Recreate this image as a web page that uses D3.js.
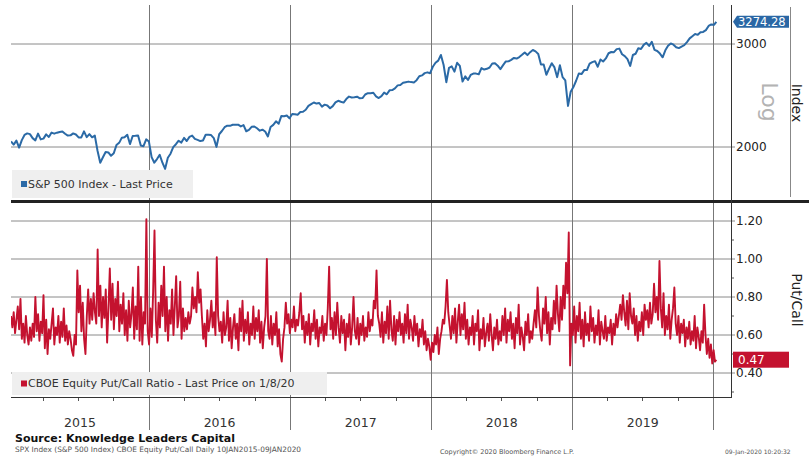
<!DOCTYPE html>
<html><head><meta charset="utf-8">
<script src="https://cdn.jsdelivr.net/npm/d3@7"></script>
<style>body{margin:0;background:#fff}svg{display:block}text{font-family:"DejaVu Sans",sans-serif}</style>
</head><body><svg id="c" width="809" height="459"></svg>
<script>
const startDate = "2015-01-09", endDate = "2020-01-09", axisEndDate = "2020-02-16";
const years = [2015, 2016, 2017, 2018, 2019];
const spxTicks = [2000, 3000];
const pcTicks = [0.4, 0.6, 0.8, 1.0, 1.2];
const pcMinorTicks = [0.3, 0.5, 0.7, 0.9, 1.1];
const spxLast = 3274.28, pcLast = 0.47;
const spxLabel = "S&P 500 Index - Last Price";
const pcLabel = "CBOE Equity Put/Call Ratio - Last Price on 1/8/20";
// S&P 500 weekly closes (Fridays), last point = 9 Jan 2020
const spxWeekly = [
2044,2019,2051,1995,2055,2097,2110,2104,2071,2053,2108,2061,2067,2102,2081,2117,2108,2116,2122,2126,2107,2092,2094,2110,2101,2077,2077,2127,2079,2104,2078,2092,1971,1880,1921,1961,1958,1932,1951,2015,2033,2075,2079,2099,2023,2089,2090,2092,2012,2006,2061,2044,
1922,1880,1907,1940,1880,1835,1917,1948,1999,2022,2050,2035,2073,2048,2081,2092,2065,2057,2047,2052,2099,2099,2096,2071,2001,2103,2130,2162,2175,2174,2183,2184,2184,2169,2180,2128,2139,2165,2168,2153,2133,2141,2126,2085,2164,2182,2213,2192,2260,2258,2264,2239,
2277,2275,2271,2295,2297,2316,2351,2367,2383,2373,2378,2344,2363,2355,2329,2349,2384,2399,2390,2382,2415,2439,2431,2433,2438,2423,2425,2459,2472,2472,2476,2441,2425,2443,2477,2461,2500,2502,2519,2549,2553,2575,2581,2587,2582,2579,2602,2642,2651,2675,2683,2674,
2743,2786,2810,2873,2762,2581,2732,2747,2691,2786,2752,2588,2641,2604,2656,2670,2670,2663,2728,2713,2721,2735,2779,2780,2755,2718,2760,2801,2802,2819,2840,2833,2850,2875,2902,2872,2905,2930,2914,2885,2767,2768,2658,2723,2781,2736,2633,2760,2633,2600,2351,2486,
2532,2596,2671,2665,2707,2708,2776,2793,2804,2743,2822,2800,2834,2893,2907,2905,2940,2946,2881,2860,2826,2752,2873,2887,2950,2942,2990,3014,2977,3026,2932,2919,2889,2847,2926,2979,3007,2992,2962,2952,2970,2986,3023,3067,3093,3120,3110,3141,3146,3169,3221,3240,
3235,3274.28];
// CBOE equity put/call ratio, sampled about twice a week
const putCall = [
0.70,0.64,0.72,0.61,0.68,0.75,0.63,0.79,0.58,0.66,
0.56,0.70,0.60,0.55,0.64,0.57,0.66,0.59,0.80,0.62,
0.71,0.57,0.67,0.61,0.81,0.53,0.68,0.50,0.63,0.58,
0.66,0.74,0.55,0.64,0.60,0.70,0.56,0.67,0.59,0.74,
0.57,0.65,0.55,0.62,0.58,0.52,0.49,0.60,0.55,0.94,
0.72,0.86,0.62,0.77,0.58,0.50,0.70,0.84,0.66,0.79,
0.68,0.82,0.72,0.66,1.05,0.70,0.86,0.64,0.80,0.69,
0.84,0.56,0.74,0.95,0.68,0.87,0.63,0.79,0.70,0.88,
0.62,0.76,0.66,0.82,0.60,0.73,0.57,0.78,0.64,0.71,
0.85,0.58,0.75,0.63,0.96,0.57,0.80,0.55,0.72,0.66,
1.21,0.62,0.55,0.74,0.59,0.83,1.15,0.68,0.56,0.77,
0.64,0.86,0.70,0.96,0.62,0.80,0.57,0.73,0.66,0.84,
0.60,0.75,0.91,0.64,0.70,0.88,0.58,0.74,0.62,0.69,
0.63,0.72,0.66,0.70,0.85,0.74,0.80,0.72,0.93,0.77,
0.84,0.70,0.58,0.66,0.54,0.73,0.62,0.68,0.78,0.64,
0.72,0.60,1.01,0.70,0.62,0.67,0.56,0.72,0.60,0.64,
0.78,0.57,0.69,0.53,0.64,0.71,0.58,0.66,0.52,0.74,
0.62,0.78,0.57,0.68,0.61,0.72,0.55,0.66,0.60,0.75,
0.58,0.69,0.62,0.73,0.56,0.67,0.53,0.64,0.70,1.00,
0.62,0.58,0.70,0.55,0.66,0.60,0.72,0.54,0.63,0.50,
0.46,0.58,0.64,0.77,0.66,0.71,0.61,0.68,0.64,0.75,
0.62,0.68,0.65,0.72,0.82,0.63,0.70,0.56,0.67,0.60,
0.71,0.55,0.66,0.62,0.73,0.58,0.68,0.54,0.64,0.61,
0.70,0.57,0.66,0.60,0.74,0.96,0.63,0.69,0.58,0.72,
0.60,0.77,0.64,0.56,0.70,0.61,0.68,0.52,0.66,0.59,
0.71,0.55,0.64,0.80,0.62,0.58,0.69,0.55,0.66,0.60,
0.70,0.57,0.64,0.59,0.72,0.62,0.68,0.65,0.78,0.74,
0.94,0.70,0.66,0.59,0.72,0.56,0.67,0.61,0.75,0.58,
0.78,0.63,0.57,0.70,0.55,0.68,0.62,0.72,0.60,0.66,
0.56,0.71,0.61,0.76,0.58,0.68,0.64,0.57,0.70,0.60,
0.66,0.54,0.63,0.59,0.68,0.55,0.62,0.52,0.58,0.54,
0.47,0.56,0.51,0.60,0.55,0.64,0.50,0.58,0.62,0.68,
0.66,0.75,0.89,0.72,0.65,0.58,0.70,0.61,0.74,0.56,
0.67,0.76,0.60,0.71,0.63,0.77,0.58,0.68,0.55,0.64,
0.60,0.70,0.55,0.66,0.62,0.73,0.52,0.63,0.58,0.69,
0.54,0.61,0.66,0.57,0.71,0.60,0.52,0.64,0.58,0.68,
0.55,0.62,0.57,0.70,0.60,0.74,0.56,0.68,0.62,0.72,
0.58,0.66,0.53,0.69,0.61,0.76,0.55,0.64,0.59,0.52,
0.67,0.60,0.71,0.56,0.62,0.58,0.66,0.73,0.64,0.85,
0.70,0.62,0.57,0.74,0.66,0.80,0.61,0.72,0.55,0.69,
0.63,0.78,0.66,0.86,0.71,0.62,0.80,0.68,0.86,0.74,
0.98,0.82,1.14,0.44,0.66,0.60,0.75,0.56,0.70,0.62,
0.77,0.58,0.68,0.54,0.72,0.60,0.66,0.57,0.75,0.62,
0.69,0.56,0.65,0.60,0.73,0.55,0.67,0.62,0.58,0.70,
0.57,0.64,0.61,0.68,0.55,0.66,0.60,0.71,0.64,0.70,
0.76,0.68,0.81,0.72,0.65,0.78,0.63,0.82,0.70,0.66,
0.74,0.60,0.70,0.57,0.67,0.62,0.72,0.60,0.76,0.68,
0.73,0.64,0.77,0.66,0.71,0.87,0.72,0.80,0.68,0.99,
0.74,0.64,0.82,0.60,0.70,0.63,0.76,0.58,0.68,0.74,
0.85,0.66,0.60,0.70,0.56,0.66,0.61,0.68,0.54,0.64,
0.58,0.67,0.55,0.62,0.57,0.70,0.53,0.64,0.59,0.52,
0.62,0.56,0.76,0.60,0.50,0.58,0.48,0.55,0.45,0.52,
0.46,0.47];

const parse = d3.utcParse("%Y-%m-%d");
const t0 = parse(startDate), t1 = parse(endDate), tAxis = parse(axisEndDate);
const DAY = 864e5;
const spxData = spxWeekly.map((v, i) => ({d: new Date(Math.min(+t0 + i * 7 * DAY, +t1)), v}));
const pcStep = (t1 - t0) / (putCall.length - 1);
const pcData = putCall.map((v, i) => ({d: new Date(+t0 + i * pcStep), v}));

const L = 11, R = 731;
const top1 = 5, bot1 = 200, top2 = 203, bot2 = 397;
const x = d3.scaleUtc().domain([t0, tAxis]).range([L, R]);
const y1 = d3.scaleLog().domain([2000, 3000]).range([147, 44]);
const y2 = d3.scaleLinear().domain([0.4, 1.2]).range([373, 221]);

const svg = d3.select("#c");
const defs = svg.append("defs");
defs.append("clipPath").attr("id", "c1").append("rect").attr("x", L).attr("y", top1).attr("width", R - L).attr("height", bot1 - top1);
defs.append("clipPath").attr("id", "c2").append("rect").attr("x", L).attr("y", top2).attr("width", R - L).attr("height", bot2 - top2);

const gridC = "#8a8a8a";
svg.append("g").selectAll("line").data(spxTicks).join("line")
  .attr("x1", L).attr("x2", R + 4).attr("y1", d => y1(d)).attr("y2", d => y1(d))
  .attr("stroke", gridC).attr("stroke-width", 1);
svg.append("g").selectAll("line").data(pcTicks).join("line")
  .attr("x1", L).attr("x2", R + 4).attr("y1", d => y2(d)).attr("y2", d => y2(d))
  .attr("stroke", gridC).attr("stroke-width", 1);
svg.append("g").selectAll("line").data(pcMinorTicks).join("line")
  .attr("x1", R).attr("x2", R + 3).attr("y1", d => y2(d)).attr("y2", d => y2(d))
  .attr("stroke", "#555");
const yearStarts = years.slice(1).map(yr => new Date(Date.UTC(yr, 0, 1))).concat([new Date(Date.UTC(2020, 0, 1))]);
svg.append("g").selectAll("line").data(yearStarts).join("line")
  .attr("x1", d => Math.round(x(d)) + 0.5).attr("x2", d => Math.round(x(d)) + 0.5)
  .attr("y1", top1).attr("y2", 430).attr("stroke", "#777").attr("stroke-width", 1);

svg.append("path").datum(spxData).attr("clip-path", "url(#c1)")
  .attr("d", d3.line().x(d => x(d.d)).y(d => y1(d.v)))
  .attr("fill", "none").attr("stroke", "#2b6aa6").attr("stroke-width", 2).attr("stroke-linejoin", "round");
svg.append("path").datum(pcData).attr("clip-path", "url(#c2)")
  .attr("d", d3.line().x(d => x(d.d)).y(d => y2(d.v)))
  .attr("fill", "none").attr("stroke", "#c4122f").attr("stroke-width", 1.9).attr("stroke-linejoin", "round");

svg.append("line").attr("x1", L).attr("x2", 809).attr("y1", 201.5).attr("y2", 201.5).attr("stroke", "#222").attr("stroke-width", 3);
svg.append("line").attr("x1", R + 0.5).attr("x2", R + 0.5).attr("y1", top1).attr("y2", bot2).attr("stroke", "#333");
svg.append("line").attr("x1", L).attr("x2", R + 1).attr("y1", bot2 + 0.5).attr("y2", bot2 + 0.5).attr("stroke", "#333");
svg.append("line").attr("x1", 790.5).attr("x2", 790.5).attr("y1", 7).attr("y2", 197).attr("stroke", "#888");

const qTicks = d3.utcMonth.every(3).range(t0, tAxis).filter(d => d.getUTCMonth() !== 0);
svg.append("g").selectAll("line").data(qTicks).join("line")
  .attr("x1", d => Math.round(x(d)) + 0.5).attr("x2", d => Math.round(x(d)) + 0.5)
  .attr("y1", bot2 + 1).attr("y2", bot2 + 4).attr("stroke", "#555");

svg.append("g").selectAll("text").data(spxTicks).join("text")
  .attr("x", 736).attr("y", d => y1(d)).attr("dy", "0.35em")
  .attr("font-size", 12).attr("fill", "#222").text(d => d3.format("d")(d));
svg.append("g").selectAll("text").data(pcTicks).join("text")
  .attr("x", 736).attr("y", d => y2(d)).attr("dy", "0.35em")
  .attr("font-size", 12).attr("fill", "#222").text(d => d3.format(".2f")(d));

svg.append("g").selectAll("text").data(years).join("text")
  .attr("x", yr => {
    const a = Math.max(+new Date(Date.UTC(yr, 0, 1)), +t0), b = Math.min(+new Date(Date.UTC(yr + 1, 0, 1)), +tAxis);
    return (x(new Date(a)) + x(new Date(b))) / 2;
  })
  .attr("y", 427).attr("text-anchor", "middle").attr("font-size", 12.5).attr("fill", "#333").text(d => d);

const lastY1 = y1(spxLast);
svg.append("path").attr("d", `M733,${lastY1} L737,${lastY1 - 6} L789,${lastY1 - 6} L789,${lastY1 + 6} L737,${lastY1 + 6} Z`).attr("fill", "#2a67a5");
svg.append("text").attr("x", 738).attr("y", lastY1).attr("dy", "0.36em").attr("font-size", 11.5).attr("fill", "#fff").text(d3.format(".2f")(spxLast));
const lastY2 = y2(pcLast);
svg.append("rect").attr("x", 733).attr("y", lastY2 - 8).attr("width", 56).attr("height", 16).attr("fill", "#c4122f");
svg.append("text").attr("x", 738).attr("y", lastY2).attr("dy", "0.36em").attr("font-size", 12).attr("fill", "#fff").text(d3.format(".2f")(pcLast));

svg.append("text").attr("transform", "translate(770,102) rotate(90)").attr("text-anchor", "middle").attr("dy", "0.35em")
  .attr("font-size", 22).attr("fill", "#b3b3b3").text("Log");
svg.append("text").attr("transform", "translate(797,103) rotate(90)").attr("text-anchor", "middle").attr("dy", "0.35em")
  .attr("font-size", 14).attr("fill", "#222").text("Index");
svg.append("text").attr("transform", "translate(797,300) rotate(90)").attr("text-anchor", "middle").attr("dy", "0.35em")
  .attr("font-size", 14).attr("fill", "#222").text("Put/Call");

function legend(yTop, w, color, label) {
  const g = svg.append("g");
  g.append("rect").attr("x", 12).attr("y", yTop).attr("width", w).attr("height", yTop > 300 ? 23 : 28).attr("fill", "#efefef");
  const cy = yTop + (yTop > 300 ? 11.5 : 14);
  g.append("rect").attr("x", 21).attr("y", cy - 3).attr("width", 6).attr("height", 6).attr("fill", color);
  g.append("text").attr("x", 28).attr("y", cy).attr("dy", "0.36em").attr("font-size", 11).attr("fill", "#333").text(label);
}
legend(170, 181, "#2b6aa6", spxLabel);
legend(372, 315, "#c4122f", pcLabel);

svg.append("text").attr("x", 15).attr("y", 442).attr("font-size", 11).attr("font-weight", "bold").attr("fill", "#111").text("Source: Knowledge Leaders Capital");
svg.append("text").attr("x", 15).attr("y", 452).attr("font-size", 7.4).attr("fill", "#555").text("SPX Index (S&P 500 Index) CBOE Equity Put/Call  Daily 10JAN2015-09JAN2020");
svg.append("text").attr("x", 440).attr("y", 454).attr("font-size", 6.5).attr("fill", "#555").text("Copyright\u00a9 2020 Bloomberg Finance L.P.");
svg.append("text").attr("x", 725).attr("y", 454).attr("font-size", 6).attr("fill", "#555").text("09-Jan-2020 10:20:32");
</script></body></html>
